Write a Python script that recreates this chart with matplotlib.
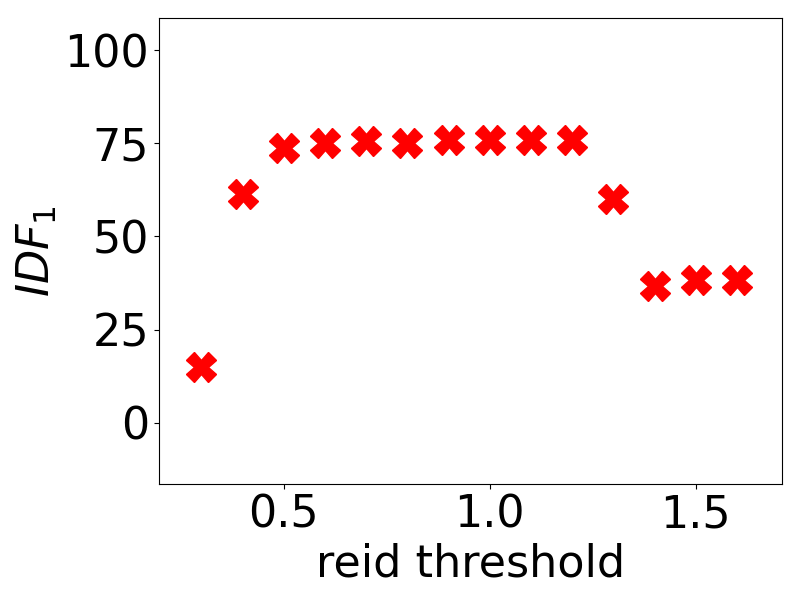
import matplotlib
matplotlib.use('Agg')
import matplotlib.pyplot as plt

# reid threshold sweep vs IDF1
thresholds = [0.3, 0.4, 0.5, 0.6, 0.7, 0.8, 0.9, 1.0, 1.1, 1.2, 1.3, 1.4, 1.5, 1.6]
idf1 = [15.0, 61.3, 73.6, 75.1, 75.6, 75.1, 76.0, 75.9, 76.0, 76.0, 60.0, 36.8, 38.3, 38.3]
yticks = [0, 25, 50, 75, 100]
xticks = [0.5, 1.0, 1.5]

fig = plt.figure(figsize=(8, 6), dpi=100)
ax = fig.add_axes([0.19875, 0.1933, 0.77875, 0.7767])

ax.plot(thresholds, idf1, linestyle='none', marker='X', markersize=21, color='red')

ax.set_xlim(0.197, 1.709)
ax.set_ylim(-16.4, 108.6)
ax.set_xticks(xticks)
ax.set_yticks(yticks)
ax.tick_params(labelsize=32)
ax.set_xlabel('reid threshold', fontsize=32)
ax.set_ylabel('$IDF_1$', fontsize=32)

fig.savefig('out.png', dpi=100)
